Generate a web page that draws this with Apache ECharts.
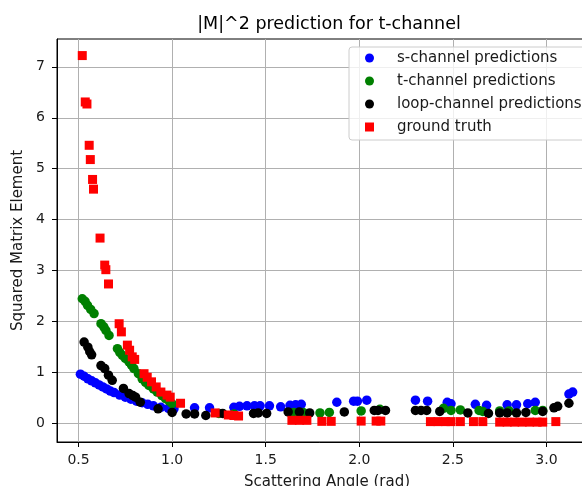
<!DOCTYPE html>
<html><head><meta charset="utf-8">
<script src="https://cdn.jsdelivr.net/npm/echarts@6/dist/echarts.min.js"></script>
<style>html,body{margin:0;padding:0;background:#fff}#c{width:582px;height:486px}</style>
</head><body><div id="c"></div>
<script>
const xTicks = [0.5, 1.0, 1.5, 2.0, 2.5, 3.0];
const yTicks = [0, 1, 2, 3, 4, 5, 6, 7];

const sX = [0.51,0.53,0.55,0.57,0.59,0.61,0.63,0.65,0.67,0.69,0.72,0.75,0.78,0.81,0.84,0.87,0.90,0.94,0.98,1.01,1.12,1.20,1.33,1.36,1.40,1.44,1.47,1.52,1.58,1.63,1.66,1.69,1.88,1.97,1.99,2.04,2.30,2.365,2.47,2.49,2.62,2.68,2.79,2.84,2.90,2.94,3.12,3.14];
const sY = [0.97,0.93,0.88,0.84,0.80,0.76,0.72,0.68,0.64,0.61,0.56,0.52,0.48,0.44,0.41,0.38,0.35,0.32,0.30,0.29,0.31,0.31,0.32,0.34,0.35,0.35,0.35,0.35,0.33,0.36,0.37,0.38,0.42,0.44,0.44,0.46,0.46,0.44,0.42,0.39,0.38,0.36,0.37,0.37,0.39,0.42,0.58,0.62];

const tX = [0.52,0.535,0.548,0.565,0.583,0.62,0.635,0.646,0.663,0.708,0.72,0.734,0.75,0.77,0.783,0.796,0.82,0.84,0.858,0.876,0.90,0.92,0.945,0.965,0.985,1.0,1.25,1.33,1.65,1.70,1.79,1.84,2.01,2.11,2.45,2.49,2.54,2.64,2.66,2.75,2.80,2.94,2.98];
const tY = [2.45,2.40,2.32,2.24,2.16,1.96,1.90,1.83,1.73,1.47,1.40,1.34,1.28,1.21,1.15,1.08,0.98,0.88,0.81,0.75,0.68,0.62,0.55,0.49,0.44,0.39,0.20,0.19,0.22,0.22,0.21,0.22,0.25,0.28,0.30,0.26,0.27,0.26,0.24,0.25,0.25,0.26,0.26];

const lX = [0.53,0.55,0.56,0.57,0.62,0.64,0.66,0.68,0.74,0.77,0.79,0.805,0.83,0.925,1.0,1.075,1.12,1.18,1.27,1.435,1.46,1.505,1.62,1.68,1.735,1.92,2.08,2.10,2.14,2.30,2.33,2.36,2.43,2.58,2.69,2.75,2.79,2.84,2.89,2.98,3.04,3.06,3.12];
const lY = [1.60,1.50,1.41,1.35,1.14,1.08,0.95,0.85,0.69,0.59,0.55,0.52,0.42,0.29,0.22,0.19,0.19,0.16,0.20,0.20,0.21,0.20,0.23,0.23,0.21,0.23,0.26,0.26,0.26,0.26,0.26,0.26,0.24,0.21,0.20,0.21,0.21,0.21,0.22,0.24,0.31,0.34,0.40];

const gX = [0.52,0.536,0.545,0.557,0.563,0.575,0.58,0.615,0.64,0.646,0.66,0.717,0.729,0.761,0.773,0.787,0.80,0.85,0.867,0.89,0.915,0.94,0.973,0.99,1.045,1.23,1.30,1.33,1.355,1.64,1.68,1.72,1.80,1.85,2.01,2.09,2.115,2.38,2.42,2.46,2.49,2.54,2.61,2.66,2.75,2.79,2.83,2.87,2.91,2.95,2.98,3.05];
const gY = [7.22,6.31,6.27,5.46,5.18,4.79,4.60,3.64,3.11,3.02,2.74,1.96,1.80,1.54,1.44,1.31,1.26,0.98,0.91,0.82,0.72,0.62,0.56,0.52,0.40,0.21,0.17,0.16,0.15,0.065,0.065,0.065,0.045,0.045,0.05,0.05,0.05,0.04,0.04,0.04,0.04,0.04,0.04,0.04,0.03,0.03,0.03,0.03,0.03,0.03,0.03,0.04];

const names = ['s-channel predictions','t-channel predictions','loop-channel predictions','ground truth'];
const colors = ['#0000ff','#008000','#000000','#ff0000'];

function pairs(xs, ys){ return xs.map((x,i)=>[x, ys[i]]); }
const FONT = 'DejaVu Sans';

const chart = echarts.init(document.getElementById('c'), null, {renderer:'canvas'});
chart.setOption({
  animation:false,
  textStyle:{fontFamily:FONT},
  title:{text:'|M|^2 prediction for t-channel', left:324, top:10, textAlign:'center',
    textStyle:{fontFamily:FONT, fontSize:17.5, fontWeight:'normal', color:'#000'}},
  legend:{orient:'vertical', left:349, top:47, itemWidth:9, itemHeight:9, itemGap:7,
    padding:[3,12,5,16], backgroundColor:'rgba(255,255,255,0.8)', borderColor:'#cccccc', borderWidth:1, borderRadius:3,
    textStyle:{fontFamily:FONT, fontSize:15, color:'#1a1a1a', lineHeight:16, padding:[0,0,0,18]},
    data:[{name:names[0], icon:'circle'},{name:names[1], icon:'circle'},{name:names[2], icon:'circle'},{name:names[3], icon:'rect'}]},
  grid:{left:57, top:39, width:540, bottom:44, show:true, borderColor:'#000', borderWidth:1, backgroundColor:'transparent',
    containLabel:false, outerBoundsMode:'none'},
  xAxis:{type:'value', min:0.385, max:3.27,
    name:'Scattering Angle (rad)', nameLocation:'middle', nameGap:33,
    nameTextStyle:{fontFamily:FONT, fontSize:15, color:'#1a1a1a'},
    axisLine:{show:true, onZero:false, lineStyle:{color:'#000', width:1}},
    axisTick:{show:true, length:5, lineStyle:{color:'#000'}, customValues:xTicks},
    axisLabel:{margin:11, fontFamily:FONT, fontSize:14, color:'#1a1a1a', customValues:xTicks, formatter:v=>v.toFixed(1)},
    splitLine:{show:true, lineStyle:{color:'#b0b0b0', width:1}}},
  yAxis:{type:'value', min:-0.36, max:7.545,
    name:'Squared Matrix Element', nameLocation:'middle', nameGap:29,
    nameTextStyle:{fontFamily:FONT, fontSize:15, color:'#1a1a1a'},
    axisLine:{show:true, onZero:false, lineStyle:{color:'#000', width:1}},
    axisTick:{show:true, length:5, lineStyle:{color:'#000'}, customValues:yTicks},
    axisLabel:{margin:12, fontFamily:FONT, fontSize:14, color:'#1a1a1a', customValues:yTicks, formatter:v=>String(Math.round(v))},
    splitLine:{show:true, lineStyle:{color:'#b0b0b0', width:1}}},
  series:[
    {name:names[0], type:'scatter', symbol:'circle', symbolSize:9.5, itemStyle:{color:colors[0], opacity:1}, data:pairs(sX,sY)},
    {name:names[1], type:'scatter', symbol:'circle', symbolSize:9.5, itemStyle:{color:colors[1], opacity:1}, data:pairs(tX,tY)},
    {name:names[2], type:'scatter', symbol:'circle', symbolSize:9.5, itemStyle:{color:colors[2], opacity:1}, data:pairs(lX,lY)},
    {name:names[3], type:'scatter', symbol:'rect', symbolSize:9, itemStyle:{color:colors[3], opacity:1}, data:pairs(gX,gY)}
  ]
});
</script></body></html>
